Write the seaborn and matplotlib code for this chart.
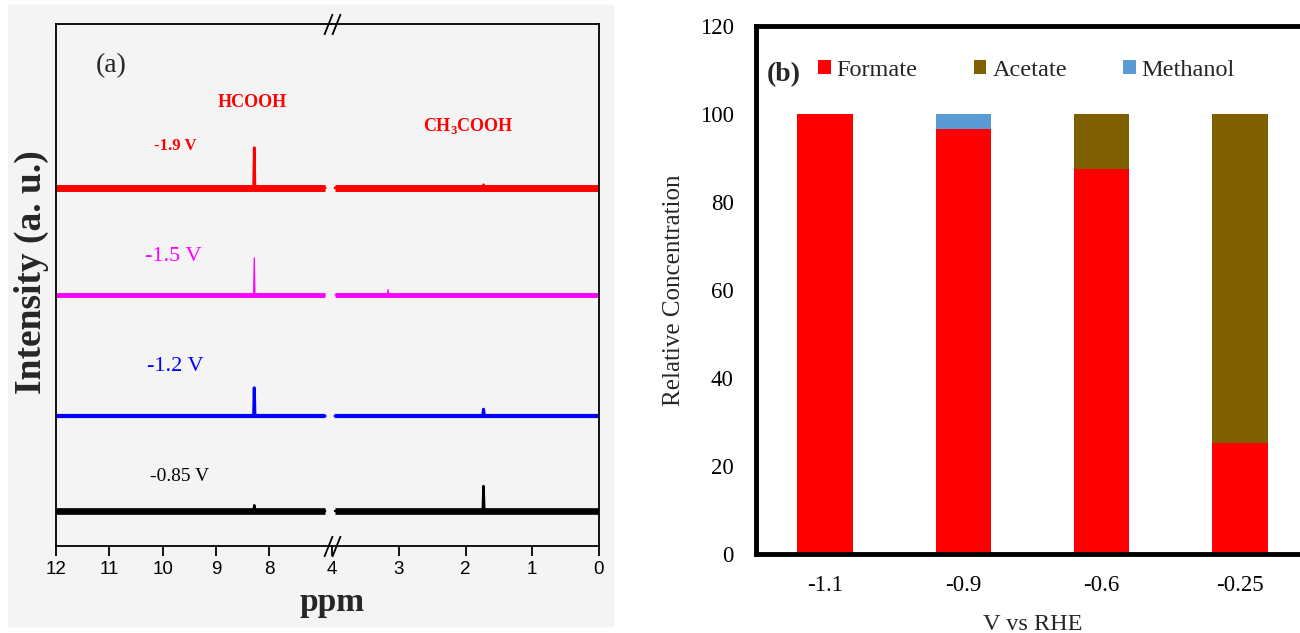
import matplotlib
matplotlib.use('Agg')
import matplotlib.pyplot as plt
import matplotlib.transforms as mtrans
from matplotlib.patches import Patch, Rectangle
import seaborn as sns
import pandas as pd

# ---------------- panel (a): 1H NMR spectra ----------------
spec_labels = ['-1.9 V', '-1.5 V', '-1.2 V', '-0.85 V']
spec_colors = ['#ff0000', '#ff00ff', '#0000ff', '#000000']
spec_offset = [68.6, 48.1, 24.9, 6.7]        # baseline of each trace (a.u.)
hcooh_ppm = 8.28
hcooh_height = [7.7, 7.1, 5.4, 1.1]
ch3cooh_ppm = 1.73
ch3cooh_height = [0.6, 0.0, 1.3, 4.8]
minor_ppm = 3.16
minor_height = [0.0, 1.0, 0.0, 0.0]
left_span = [12.0, 6.95]                     # ppm range of first segment
right_span = [3.955, 0.0]                    # ppm range of second segment
ppm_ticks_left = [12, 11, 10, 9, 8]
ppm_ticks_right = [4, 3, 2, 1, 0]

# ---------------- panel (b): product distribution ----------------
potentials = ['-1.1', '-0.9', '-0.6', '-0.25']
formate = [100.0, 96.6, 87.6, 25.2]
acetate = [0.0, 0.0, 12.4, 74.8]
methanol = [0.0, 3.4, 0.0, 0.0]
prod_colors = {'Formate': '#ff0000', 'Acetate': '#7f6000', 'Methanol': '#5b9bd5'}

sns.set_theme(style='white')
plt.rcParams['font.family'] = ['Liberation Serif', 'DejaVu Serif']
plt.rcParams['mathtext.fontset'] = 'custom'
plt.rcParams['mathtext.rm'] = 'Liberation Serif'
plt.rcParams['mathtext.bf'] = 'Liberation Serif:bold'

W, H = 1300, 633
fig = plt.figure(figsize=(W / 100, H / 100), dpi=100)
fig.patch.set_facecolor('white')

# grey backdrop of the scanned panel (a)
bg = '#f4f4f4'
fig.patches.append(Rectangle((8 / W, 1 - 626 / H), (613 - 8) / W, (626 - 5) / H,
                             transform=fig.transFigure, color=bg, zorder=-5))

bot, hgt = (H - 546) / H, 522 / H
ax1 = fig.add_axes([56 / W, bot, (332 - 56) / W, hgt])
ax2 = fig.add_axes([332 / W, bot, (599 - 332) / W, hgt])

w = 0.012
band_lw = [5.0, 3.5, 3.0, 4.8]
spike_lw = [2.0, 0.9, 2.2, 1.8]
for i, c in enumerate(spec_colors):
    o = spec_offset[i]
    xl = [left_span[0], hcooh_ppm + w, hcooh_ppm, hcooh_ppm - w, left_span[1]]
    yl = [o, o, o + hcooh_height[i], o, o]
    xr = [right_span[0], minor_ppm + w, minor_ppm, minor_ppm - w,
          ch3cooh_ppm + w, ch3cooh_ppm, ch3cooh_ppm - w, right_span[1]]
    yr = [o, o, o + minor_height[i], o, o, o + ch3cooh_height[i], o, o]
    for ax, xs, ys in [(ax1, xl, yl), (ax2, xr, yr)]:
        sns.lineplot(x=xs, y=ys, ax=ax, color=c, lw=spike_lw[i], sort=False, estimator=None)
        sns.lineplot(x=[xs[0], xs[-1]], y=[o, o], ax=ax, color=c, lw=band_lw[i],
                     sort=False, estimator=None, solid_capstyle='butt')

ax1.set_xlim(12, 12 - 276 / 53.3)
ax2.set_xlim(4, 0)
for ax, ticks in [(ax1, ppm_ticks_left), (ax2, ppm_ticks_right)]:
    ax.set_ylim(0, 100)
    ax.set_yticks([])
    ax.set_xticks(ticks)
    ax.set_xticklabels([str(t) for t in ticks], fontfamily='Liberation Sans')
    ax.tick_params(axis='x', direction='out', length=7, width=1.3, labelsize=13.5,
                   pad=4, colors='black', bottom=True)
    ax.set_facecolor(bg)
    ax.set_xlabel('')
    ax.set_ylabel('')
    for s in ax.spines.values():
        s.set_color('black')
        s.set_linewidth(1.3)
ax1.spines['right'].set_visible(False)
ax2.spines['left'].set_visible(False)

# break marks
slash = [(-0.4, -1), (0.4, 1)]
for dx in (-4, 4):
    tr = mtrans.offset_copy(ax2.transAxes, fig=fig, x=dx, y=0, units='dots')
    ax2.plot([0, 0], [0, 1], transform=tr, marker=slash, markersize=15, mew=1.3,
             linestyle='none', color='black', clip_on=False)

ax1.set_ylabel('Intensity (a. u.)', fontsize=27, fontweight='bold')
ax1.yaxis.set_label_coords(-0.024, 0.525)
fig.text(332 / W, 1 - 602 / H, 'ppm', ha='center', va='center', fontsize=24, fontweight='bold')

ax1.text(10.97, 92.1, '(a)', fontsize=20, ha='center', va='center')
ax1.text(8.32, 84.9, 'HCOOH', fontsize=13, fontweight='bold', color='#ff0000',
         ha='center', va='center')
ax2.text(1.95, 80.5, r'CH$_\mathbf{3}$COOH', fontsize=13, fontweight='bold', color='#ff0000',
         ha='center', va='center')
label_pos = [(9.77, 76.6, 12, 'bold'), (9.79, 55.4, 16, 'normal'),
             (9.77, 34.3, 16, 'normal'), (9.69, 13.4, 14, 'normal')]
for (x, y, fs, fw), lab, c in zip(label_pos, spec_labels, spec_colors):
    ax1.text(x, y, lab, fontsize=fs, fontweight=fw, color=c, ha='center', va='center')

# ---------------- panel (b) ----------------
ax3 = fig.add_axes([756 / W, (H - 554) / H, 553 / W, 528 / H])
df = pd.DataFrame({'V': potentials, 'Formate': formate, 'Acetate': acetate, 'Methanol': methanol})
stack_top = df['Formate'] + df['Acetate'] + df['Methanol']
stack_mid = df['Formate'] + df['Acetate']
sns.barplot(x=df['V'], y=stack_top, color=prod_colors['Methanol'], width=0.4,
            saturation=1, linewidth=0, ax=ax3)
sns.barplot(x=df['V'], y=stack_mid, color=prod_colors['Acetate'], width=0.4,
            saturation=1, linewidth=0, ax=ax3)
sns.barplot(x=df['V'], y=df['Formate'], color=prod_colors['Formate'], width=0.4,
            saturation=1, linewidth=0, ax=ax3)

ax3.set_xlim(-0.5, 3.5)
ax3.set_ylim(0, 120)
ax3.set_yticks(range(0, 121, 20))
ax3.tick_params(axis='both', length=0, labelsize=16.5, colors='black')
ax3.tick_params(axis='y', pad=16)
ax3.tick_params(axis='x', pad=15)
for s in ax3.spines.values():
    s.set_color('black')
    s.set_linewidth(3.5)
ax3.set_xlabel('V vs RHE', fontsize=17.5, labelpad=13)
ax3.set_ylabel('Relative Concentration', fontsize=18, labelpad=11)
ax3.text(-0.30, 108.9, '(b)', fontsize=20, fontweight='bold', ha='center', va='center')

handles = [Patch(facecolor=v, edgecolor='none', label=k) for k, v in prod_colors.items()]
ax3.legend(handles=handles, loc='center left', bbox_to_anchor=(818 / W, 1 - 70 / H),
           bbox_transform=fig.transFigure, ncol=3, frameon=False, fontsize=17.5,
           handlelength=0.52, handleheight=0.52, handletextpad=0.25, columnspacing=2.3,
           borderpad=0, borderaxespad=0)

fig.savefig('out.png', dpi=100)
